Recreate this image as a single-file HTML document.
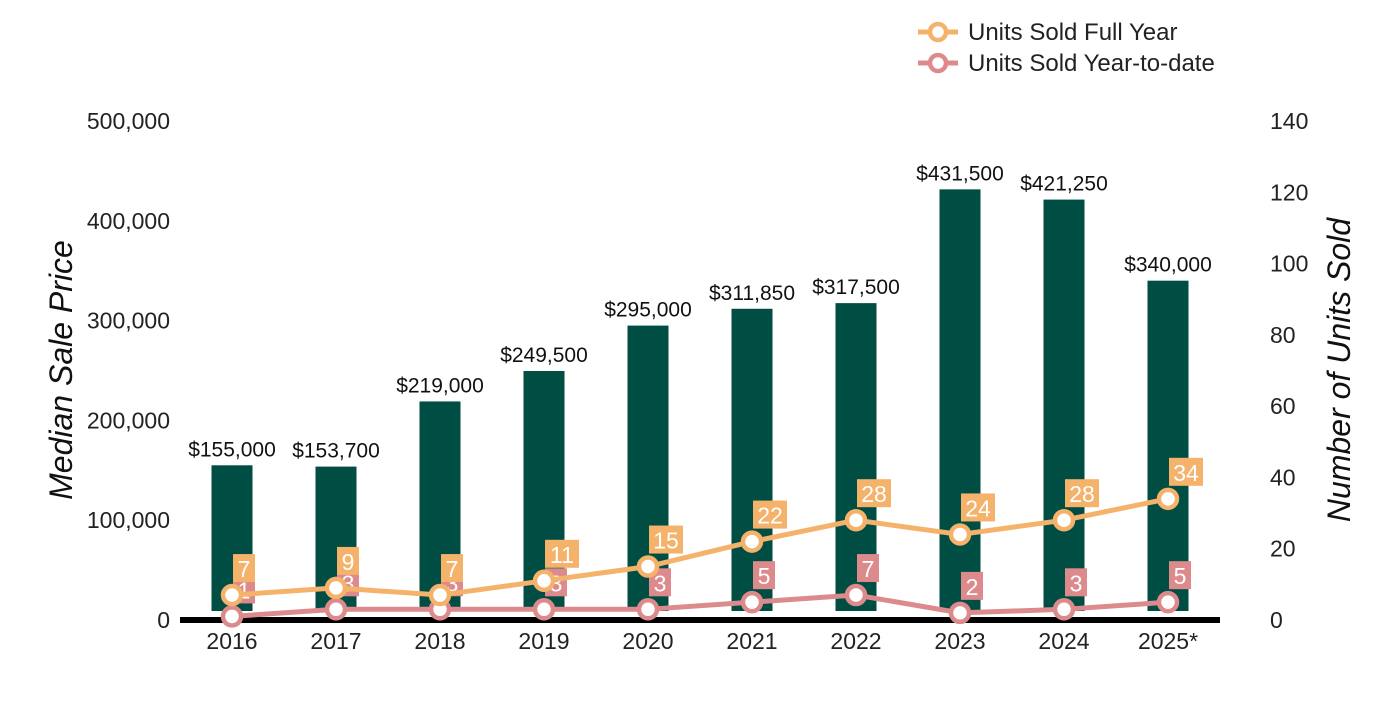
<!DOCTYPE html>
<html><head><meta charset="utf-8"><style>
body{margin:0;background:#fff;}
svg text{font-family:"Liberation Sans",Arial,sans-serif;}
</style></head><body>
<svg id="chart" width="1400" height="700" viewBox="0 0 1400 700">
</svg>
<script>
const years=["2016","2017","2018","2019","2020","2021","2022","2023","2024","2025*"];
const prices=[155000,153700,219000,249500,295000,311850,317500,431500,421250,340000];
const fullYear=[7,9,7,11,15,22,28,24,28,34];
const ytd=[1,3,3,3,3,5,7,2,3,5];
const leftTicks=[0,100000,200000,300000,400000,500000];
const rightTicks=[0,20,40,60,80,100,120,140];

const svg=document.getElementById('chart');
const NS="http://www.w3.org/2000/svg";
const y0=620,yTop=121;
const xPos=i=>232+i*104;
const yL=v=>y0-(v/500000)*(y0-yTop);
const yR=v=>y0-(v/140)*(y0-yTop);
function mk(tag,attrs,text){const e=document.createElementNS(NS,tag);for(const k in attrs)e.setAttribute(k,attrs[k]);if(text!==undefined)e.textContent=text;svg.appendChild(e);return e;}
const fmt=n=>n.toLocaleString('en-US');

leftTicks.forEach(t=>{const e=mk('text',{x:170,y:yL(t)+8,'text-anchor':'end','font-size':23,fill:'#222'},fmt(t));

});
rightTicks.forEach(t=>{const e=mk('text',{x:1270,y:yR(t)+8,'text-anchor':'start','font-size':23,fill:'#222'},String(t));

});
let t1=mk('text',{x:0,y:0,transform:'translate(72,370) rotate(-90)','text-anchor':'middle','font-size':32,'font-style':'italic',fill:'#111'},'Median Sale Price');


let t2=mk('text',{x:0,y:0,transform:'translate(1350,370) rotate(-90)','text-anchor':'middle','font-size':32,'font-style':'italic',fill:'#111'},'Number of Units Sold');



prices.forEach((p,i)=>{
 const b=mk('rect',{x:xPos(i)-20.5,y:yL(p),width:41,height:611-yL(p),fill:'#004d43'});
 
 
 const l=mk('text',{x:xPos(i),y:yL(p)-9,'text-anchor':'middle','font-size':21,fill:'#111'},'$'+fmt(p));
 
 
});
let bl=mk('line',{x1:180,x2:1220,y1:620,y2:620,stroke:'#000','stroke-width':6});


years.forEach((y,i)=>{const e=mk('text',{x:xPos(i),y:649,'text-anchor':'middle','font-size':23,fill:'#222'},y);

});

function series(vals,color,name){
 const pts=vals.map((v,i)=>xPos(i)+','+yR(v)).join(' ');
 const pl=mk('polyline',{points:pts,fill:'none',stroke:color,'stroke-width':5});
 
 
 vals.forEach((v,i)=>{
  const c=mk('circle',{cx:xPos(i),cy:yR(v),r:9,fill:'#fff',stroke:color,'stroke-width':4.5});
  
  
 });
 vals.forEach((v,i)=>{
  const s=String(v),w=s.length>1?34:22;
  const r=mk('rect',{x:xPos(i)+1,y:yR(v)-41,width:w,height:28,fill:color});
  
  
  const t=mk('text',{x:xPos(i)+1+w/2,y:yR(v)-18,'text-anchor':'middle','font-size':23,fill:'#fff'},s);
  
  
 });
}
series(ytd,'#dc8a8c','ytd');
series(fullYear,'#f5b26b','full-year');

[['Units Sold Full Year','#f5b26b',32],['Units Sold Year-to-date','#dc8a8c',63]].forEach(([lbl,c,y])=>{
 const g=mk('line',{x1:918,x2:958,y1:y,y2:y,stroke:c,'stroke-width':5});
 
 
 const ci=mk('circle',{cx:938,cy:y,r:8,fill:'#fff',stroke:c,'stroke-width':4.5});
 
 
 const t=mk('text',{x:968,y:y+8,'font-size':24,fill:'#222'},lbl);
 
 
});
</script>
</body></html>
